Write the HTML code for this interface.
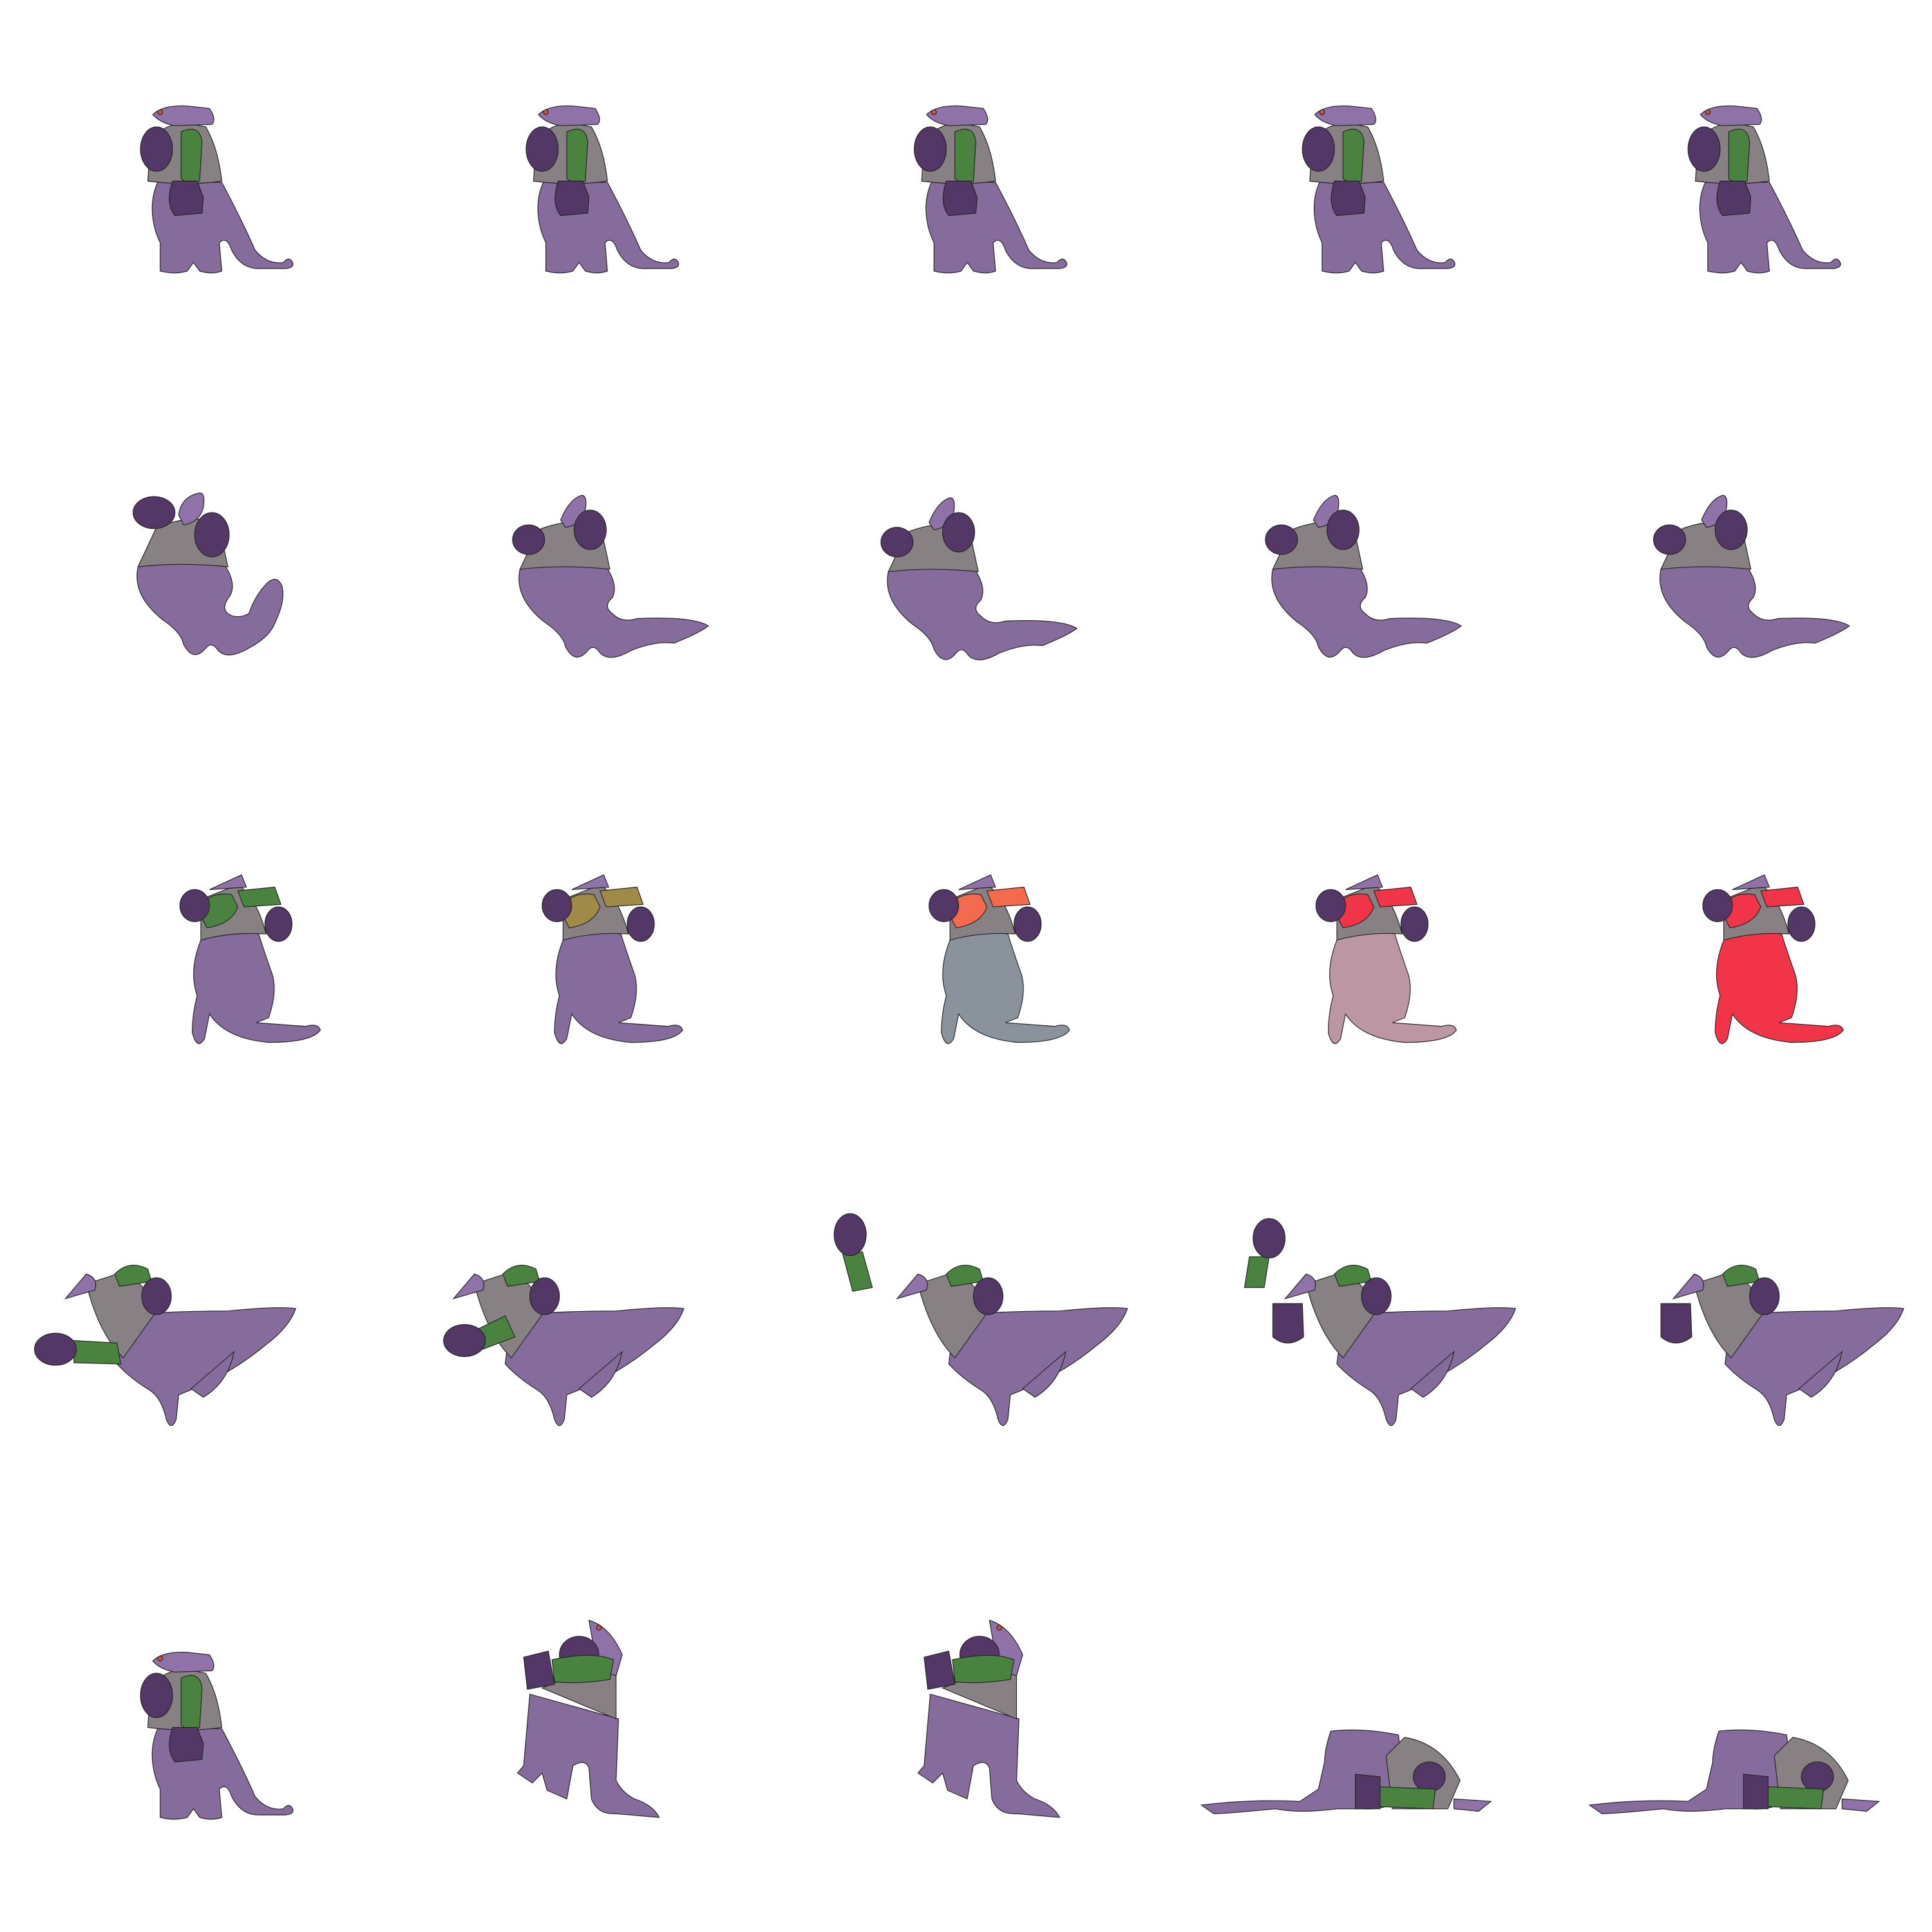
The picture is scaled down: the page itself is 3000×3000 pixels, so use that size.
<!DOCTYPE html>
<html><head><meta charset="utf-8"><style>html,body{margin:0;padding:0;background:#fff}svg{display:block}</style></head>
<body>
<svg id="sheet" xmlns="http://www.w3.org/2000/svg" width="3000" height="3000" viewBox="0 0 1568 1568">
<rect width="1568" height="1568" fill="#fff"/>
<defs>
<g id="tA" stroke="#222" stroke-width="0.6">
 <path fill="#866c9c" d="M16,63 C8,80 12,100 18,112 L18,135 Q30,138 40,135 L45,128 L50,135 Q60,138 68,135 L66,112 Q72,106 76,118 Q84,134 100,133 L120,133 Q128,132 125,127 Q122,123 118,128 Q105,130 95,118 Q85,95 68,63 Z"/>
 <path fill="#878184" d="M8,62 L10,30 Q20,15 40,15 L55,18 Q65,35 68,62 Q40,66 8,62 Z"/>
 <path fill="#8e72a8" d="M12,8 Q20,0 40,1 L58,3 Q64,12 60,16 L30,17 Q18,15 12,8 Z"/>
 <circle cx="18" cy="6" r="2" fill="#d05040"/>
 <path fill="#4a833f" d="M35,22 Q50,15 52,30 L50,62 Q42,66 35,60 Z"/>
 <ellipse fill="#533766" cx="15" cy="36" rx="13" ry="18"/>
 <path fill="#533766" d="M28,62 L48,62 L53,75 L52,88 L30,90 Q22,80 28,62 Z"/>
</g>
<g id="tB" stroke="#222" stroke-width="0.6">
 <path fill="#866c9c" d="M5,62 Q0,85 25,105 Q40,115 42,125 Q50,140 60,128 Q65,122 70,130 Q78,138 95,128 Q110,120 115,110 Q125,90 122,78 Q118,68 110,75 Q100,85 95,100 Q85,105 78,100 Q72,95 80,85 Q85,75 75,60 Q40,55 5,62 Z"/>
 <path fill="#878184" d="M5,62 L20,30 Q45,20 70,25 L78,62 Q40,58 5,62 Z"/>
 <ellipse fill="#533766" cx="18" cy="18" rx="17" ry="13"/>
 <path fill="#8e72a8" d="M38,20 Q40,5 55,2 Q60,2 58,14 Q55,26 42,28 Z"/>
 <ellipse fill="#533766" cx="65" cy="36" rx="14" ry="18"/>
</g>
<g id="tB2" stroke="#222" stroke-width="0.6">
 <path fill="#866c9c" d="M5,62 Q0,85 25,105 Q40,115 42,125 Q50,140 60,128 Q65,122 70,130 Q78,138 95,128 Q115,120 130,122 Q150,114 158,108 Q145,100 100,102 Q88,106 80,98 Q72,92 80,85 Q85,75 75,60 Q40,55 5,62 Z"/>
 <path fill="#878184" d="M5,62 L20,30 Q45,20 70,25 L78,62 Q40,58 5,62 Z"/>
 <ellipse fill="#533766" cx="12" cy="38" rx="13" ry="12"/>
 <path fill="#8e72a8" d="M38,22 Q45,5 55,2 Q60,2 58,14 Q55,26 42,28 Z"/>
 <ellipse fill="#533766" cx="62" cy="30" rx="13" ry="16"/>
</g>
<g id="tD" stroke="#222" stroke-width="0.6">
 <path fill="#866c9c" d="M75,45 Q120,42 160,42 Q200,38 215,40 Q210,55 190,70 Q160,95 120,110 L118,130 Q114,140 110,130 Q106,112 96,106 Q80,96 70,85 Z"/>
 <path fill="#866c9c" d="M130,105 L165,75 Q160,100 140,112 Z"/>
 <path fill="#878184" d="M45,20 L70,12 Q95,15 100,45 L75,80 Q55,60 45,20 Z"/>
 <path fill="#8e72a8" d="M28,32 L45,12 Q55,15 52,25 Z"/>
 <path fill="#4a833f" d="M68,12 Q80,0 95,8 L98,18 L72,22 Z"/>
 <ellipse fill="#533766" cx="102" cy="30" rx="12" ry="15"/>
</g>
<g id="tC" stroke="#222" stroke-width="0.6">
 <path class="bd" d="M15,55 Q5,80 12,100 Q8,115 8,130 Q12,145 18,135 L22,115 Q35,135 70,138 Q105,138 112,128 Q110,122 100,125 L60,122 L70,118 Q78,95 72,80 Q65,60 62,50 Q40,46 15,55 Z"/>
 <path fill="#878184" d="M15,55 L15,22 L45,10 Q60,20 68,50 Q40,48 15,55 Z"/>
 <path fill="#8e72a8" d="M22,14 L48,2 L52,12 Z"/>
 <path class="ar" d="M12,30 Q22,15 40,18 L45,28 Q40,42 20,45 Z"/>
 <path class="ar" d="M45,15 L75,12 L80,26 L50,28 Z"/>
 <ellipse fill="#533766" cx="10" cy="27" rx="12" ry="13"/>
 <ellipse fill="#533766" cx="78" cy="42" rx="11" ry="14"/>
</g>
<g id="tF" stroke="#222" stroke-width="0.6">
 <path fill="#866c9c" d="M10,60 L5,118 L0,124 L12,132 L20,124 L24,138 L40,145 L45,118 Q55,112 58,120 L60,145 Q65,158 80,157 L115,160 Q110,150 95,145 Q85,140 80,130 L82,80 Z"/>
 <path fill="#878184" d="M20,55 L80,30 L80,80 Z"/>
 <path fill="#8e72a8" d="M58,0 Q75,5 85,28 L80,45 L65,40 Z"/>
 <circle cx="66" cy="6" r="2" fill="#d05040"/>
 <ellipse fill="#533766" cx="50" cy="28" rx="16" ry="15"/>
 <path fill="#533766" d="M5,30 L25,25 L30,52 L8,56 Z"/>
 <path fill="#4a833f" d="M28,32 Q60,25 78,32 L75,48 Q50,52 30,50 Z"/>
</g>
<g id="tE" stroke="#222" stroke-width="0.6">
 <path fill="#866c9c" d="M0,75 Q40,70 80,72 L95,62 L100,40 Q100,30 105,15 Q130,12 160,18 L165,60 Q160,80 130,78 L110,78 Q80,82 60,78 Q20,82 10,82 Z"/>
 <path fill="#878184" d="M150,35 L165,20 Q195,25 210,55 L200,78 L155,78 Z"/>
 <ellipse fill="#533766" cx="185" cy="52" rx="13" ry="12"/>
 <path fill="#4a833f" d="M140,60 L190,62 L188,78 L140,76 Z"/>
 <path fill="#533766" d="M125,50 L145,52 L145,78 L125,78 Z"/>
 <path fill="#8e72a8" d="M205,70 L235,72 L225,80 L205,78 Z"/>
</g>
</defs>
<g id="sprites"></g>
<g id="extras" stroke="#222" stroke-width="0.6">
 <path fill="#4a833f" d="M60,1088 L95,1090 L98,1107 L60,1106 Z"/>
 <ellipse fill="#533766" cx="45" cy="1095" rx="17" ry="13"/>
 <path fill="#4a833f" d="M385,1080 L410,1068 L418,1085 L392,1095 Z"/>
 <ellipse fill="#533766" cx="377" cy="1088" rx="17" ry="13"/>
 <path fill="#4a833f" d="M684,1018 L700,1016 L708,1045 L692,1048 Z"/>
 <ellipse fill="#533766" cx="690" cy="1002" rx="13" ry="17"/>
 <path fill="#4a833f" d="M1014,1020 L1030,1020 L1026,1045 L1010,1045 Z"/>
 <ellipse fill="#533766" cx="1030" cy="1005" rx="13" ry="16"/>
 <path fill="#533766" d="M1033,1058 L1057,1058 L1058,1085 Q1045,1095 1033,1085 Z"/>
 <path fill="#533766" d="M1348,1058 L1372,1058 L1373,1085 Q1360,1095 1348,1085 Z"/>
</g>
</svg>
<script>
const NS='http://www.w3.org/2000/svg';
const g=document.getElementById('sprites');
function put(id,x,y,name){
  const u=document.createElementNS(NS,'use');
  u.setAttribute('href','#'+id);
  u.setAttribute('transform','translate('+x+','+y+')');
  
  
  g.appendChild(u);
  return u;
}
[112,425,740,1055,1368].forEach((x,i)=>put('tA',x,85,'sprite-idle-'+(i+1)));
put('tB',107,398,'sprite-jump-1');
[[417,400],[716,402],[1028,400],[1343,400]].forEach((p,i)=>put('tB2',p[0],p[1],'sprite-jump-'+(i+2)));
const bodies=['#866c9c','#866c9c','#8a929c','#bc96a2','#f23448'];
const arms=['#4a833f','#a08a48','#f36a4c','#f23448','#f23448'];
[148,442,756,1070,1384].forEach((x,i)=>{
  const gg=document.createElementNS(NS,'g');
  gg.setAttribute('transform','translate('+x+',708)');
  
  
  const c=document.getElementById('tC').cloneNode(true);
  c.removeAttribute('id');
  c.querySelector('.bd').setAttribute('fill',bodies[i]);
  c.querySelectorAll('.ar').forEach(a=>a.setAttribute('fill',arms[i]));
  gg.appendChild(c);g.appendChild(gg);
});
[[25,1022],[340,1022],[700,1022],[1015,1022],[1330,1022]].forEach((p,i)=>put('tD',p[0],p[1],'sprite-punch-'+(i+1)));
put('tA',112,1340,'sprite-idle-6');
put('tF',420,1315,'sprite-fall-1');
put('tF',745,1315,'sprite-fall-2');
put('tE',975,1390,'sprite-down-1');
put('tE',1290,1390,'sprite-down-2');
</script>
</body></html>
